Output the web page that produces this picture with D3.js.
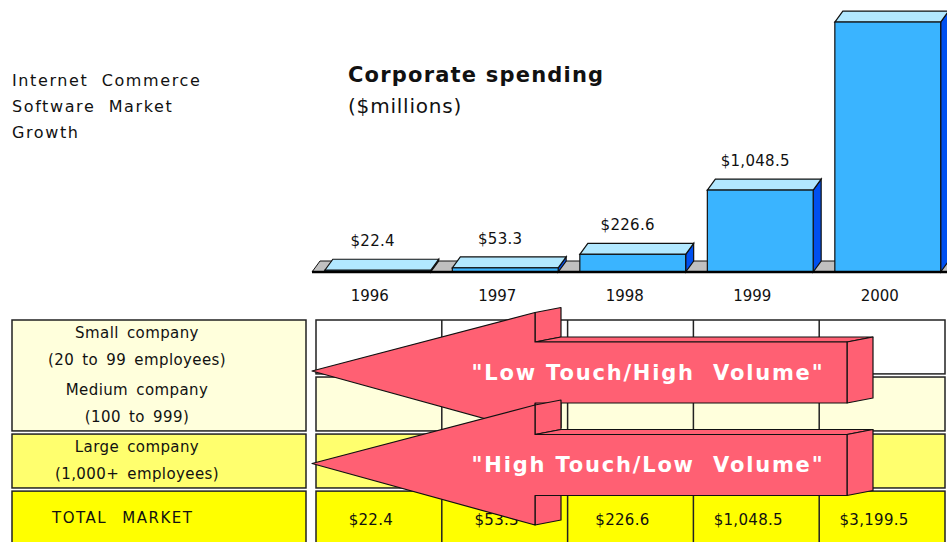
<!DOCTYPE html>
<html>
<head>
<meta charset="utf-8">
<script src="https://cdn.jsdelivr.net/npm/d3@7"></script>
<style>
  body { margin: 0; background: #fff; }
  svg { display: block; }
  text { font-family: "DejaVu Sans", sans-serif; fill: #111; }
</style>
</head>
<body>
<div id="chart"></div>
<script>
const years = ["1996", "1997", "1998", "1999", "2000"];
const spending = [22.4, 53.3, 226.6, 1048.5, 3199.5];
const valueLabels = ["$22.4", "$53.3", "$226.6", "$1,048.5", "$3,199.5"];
const sideTitle = ["Internet  Commerce", "Software  Market", "Growth"];
const rows = ["small", "medium", "large", "total"];
const rowLabels = [
  ["Small company", "(20 to 99 employees)"],
  ["Medium company", "(100 to 999)"],
  ["Large company", "(1,000+  employees)"],
  ["TOTAL MARKET"]
];
const leftGroups = [["small", "medium"], ["large"], ["total"]];
const arrowLabels = ['"Low Touch/High  Volume"', '"High Touch/Low  Volume"'];

const W = 947, H = 542;
const rowFill = { small: "#ffffff", medium: "#ffffdc", large: "#ffff6e", total: "#ffff00" };
const groupFill = ["#ffffdc", "#ffff6e", "#ffff00"];

const svg = d3.select("#chart").append("svg")
  .attr("width", W)
  .attr("height", H);

// side title
svg.append("g").selectAll("text")
  .data(sideTitle)
  .join("text")
  .attr("x", 12)
  .attr("y", (d, i) => 86 + i * 26)
  .style("font-size", "16px")
  .style("letter-spacing", "1.6px")
  .style("white-space", "pre")
  .text(d => d);

// chart title
svg.append("text")
  .attr("x", 348)
  .attr("y", 82)
  .style("font-size", "21px")
  .style("font-weight", "bold")
  .style("letter-spacing", "1.2px")
  .text("Corporate spending");

svg.append("text")
  .attr("x", 348)
  .attr("y", 113)
  .style("font-size", "20px")
  .style("letter-spacing", "0.8px")
  .text("($millions)");

// bars
const x = d3.scaleBand().domain(years).range([314, 951.5]).paddingInner(0.17).paddingOuter(0.085);
const y = d3.scaleLinear().domain([0, 3200]).range([272, 22]);
const dx = 8, dy = -11;
const base = y(0);
const line = d3.line();

svg.append("path")
  .attr("d", line([[312, base], [312 + dx, base + dy], [W + dx, base + dy], [W + dx, base]]) + "Z")
  .attr("fill", "#c0c0c0")
  .attr("stroke", "#111")
  .attr("stroke-width", 1);

const bars = svg.append("g").selectAll("g")
  .data(years.map((yr, i) => ({ yr, v: spending[i], label: valueLabels[i] })))
  .join("g");

bars.append("path")
  .attr("d", d => {
    const x0 = x(d.yr) + x.bandwidth(), yt = y(d.v);
    return line([[x0, yt], [x0 + dx, yt + dy], [x0 + dx, base + dy], [x0, base]]) + "Z";
  })
  .attr("fill", "#0050f0")
  .attr("stroke", "#111")
  .attr("stroke-width", 1.2);

bars.append("path")
  .attr("d", d => {
    const x0 = x(d.yr), x1 = x0 + x.bandwidth(), yt = y(d.v);
    return line([[x0, yt], [x0 + dx, yt + dy], [x1 + dx, yt + dy], [x1, yt]]) + "Z";
  })
  .attr("fill", "#b2e8ff")
  .attr("stroke", "#111")
  .attr("stroke-width", 1.2);

bars.append("rect")
  .attr("x", d => x(d.yr))
  .attr("y", d => y(d.v))
  .attr("width", x.bandwidth())
  .attr("height", d => base - y(d.v))
  .attr("fill", "#3ab4ff")
  .attr("stroke", "#111")
  .attr("stroke-width", 1.2);

bars.filter(d => y(d.v) + dy - 13 > 16)
  .append("text")
  .attr("x", d => x(d.yr) + x.bandwidth() / 2 - 5)
  .attr("y", d => y(d.v) + dy - 13)
  .attr("text-anchor", "middle")
  .style("font-size", "15px")
  .style("letter-spacing", "0.3px")
  .text(d => d.label);

svg.append("line")
  .attr("x1", 312).attr("x2", W)
  .attr("y1", base).attr("y2", base)
  .attr("stroke", "#000")
  .attr("stroke-width", 2.5);

svg.append("g").selectAll("text")
  .data(years)
  .join("text")
  .attr("x", d => x(d) + x.bandwidth() / 2 - 8)
  .attr("y", 301)
  .attr("text-anchor", "middle")
  .style("font-size", "15px")
  .text(d => d);

// table
const col = d3.scaleBand().domain(years).range([316, 945]);
const row = d3.scaleBand().domain(rows).range([320, 545]).paddingInner(0.055);

svg.append("g").selectAll("rect")
  .data(leftGroups)
  .join("rect")
  .attr("x", 12)
  .attr("y", d => row(d[0]))
  .attr("width", 294)
  .attr("height", d => row(d[d.length - 1]) + row.bandwidth() - row(d[0]))
  .attr("fill", (d, i) => groupFill[i])
  .attr("stroke", "#222")
  .attr("stroke-width", 1.5);

const grid = svg.append("g").selectAll("g")
  .data(rows)
  .join("g");

grid.append("rect")
  .attr("x", col.range()[0])
  .attr("y", d => row(d))
  .attr("width", col.range()[1] - col.range()[0])
  .attr("height", row.bandwidth())
  .attr("fill", d => rowFill[d])
  .attr("stroke", "#222")
  .attr("stroke-width", 1.5);

grid.selectAll("line")
  .data(d => years.slice(1).map(yr => ({ r: d, yr })))
  .join("line")
  .attr("x1", d => col(d.yr)).attr("x2", d => col(d.yr))
  .attr("y1", d => row(d.r)).attr("y2", d => row(d.r) + row.bandwidth())
  .attr("stroke", "#222")
  .attr("stroke-width", 1.5);

rows.forEach((r, ri) => {
  const lines = rowLabels[ri];
  const isTotal = r === "total";
  svg.append("g").selectAll("text")
    .data(lines)
    .join("text")
    .attr("x", isTotal ? 52 : 137)
    .attr("y", (d, i) => row(r) + (isTotal ? 32 : 18 + i * 27))
    .attr("text-anchor", isTotal ? "start" : "middle")
    .style("font-size", "15px")
    .style("letter-spacing", isTotal ? "1.5px" : "0.4px")
    .style("word-spacing", isTotal ? "9px" : "3px")
    .text(d => d);
});

svg.append("g").selectAll("text")
  .data(years.map((yr, i) => ({ yr, label: valueLabels[i] })))
  .join("text")
  .attr("x", d => col(d.yr) + col.bandwidth() / 2 - 8)
  .attr("y", row("total") + 34)
  .attr("text-anchor", "middle")
  .style("font-size", "15px")
  .style("letter-spacing", "0.3px")
  .text(d => d.label);

// arrows
function drawArrow(cy, label) {
  const tipX = 312, backX = 535, endX = 847, sh = 30.5, hh = 60, ex = 26, ey = -5;
  const T = [tipX, cy - 1.5], H1 = [backX, cy - hh], S1 = [backX, cy - sh],
        R1 = [endX, cy - sh], R2 = [endX, cy + sh], S2 = [backX, cy + sh], H2 = [backX, cy + hh];
  const off = p => [p[0] + ex, p[1] + ey];
  const g = svg.append("g");
  const faces = [
    [H1, off(H1), off(S1), S1],
    [S1, R1, off(R1), off(S1)],
    [R1, off(R1), off(R2), R2],
    [S2, off(S2), off(H2), H2],
    [T, H1, S1, R1, R2, S2, H2]
  ];
  g.selectAll("path")
    .data(faces)
    .join("path")
    .attr("d", d => line(d) + "Z")
    .attr("fill", "#ff6073")
    .attr("stroke", "#111")
    .attr("stroke-width", 1.2)
    .attr("stroke-linejoin", "round");
  g.append("text")
    .attr("x", 648)
    .attr("y", cy + 7)
    .attr("text-anchor", "middle")
    .style("fill", "#fff")
    .style("font-size", "21px")
    .style("font-weight", "bold")
    .style("letter-spacing", "1.8px")
    .style("white-space", "pre")
    .text(label);
}

drawArrow(372.5, arrowLabels[0]);
drawArrow(465, arrowLabels[1]);
</script>
</body>
</html>
